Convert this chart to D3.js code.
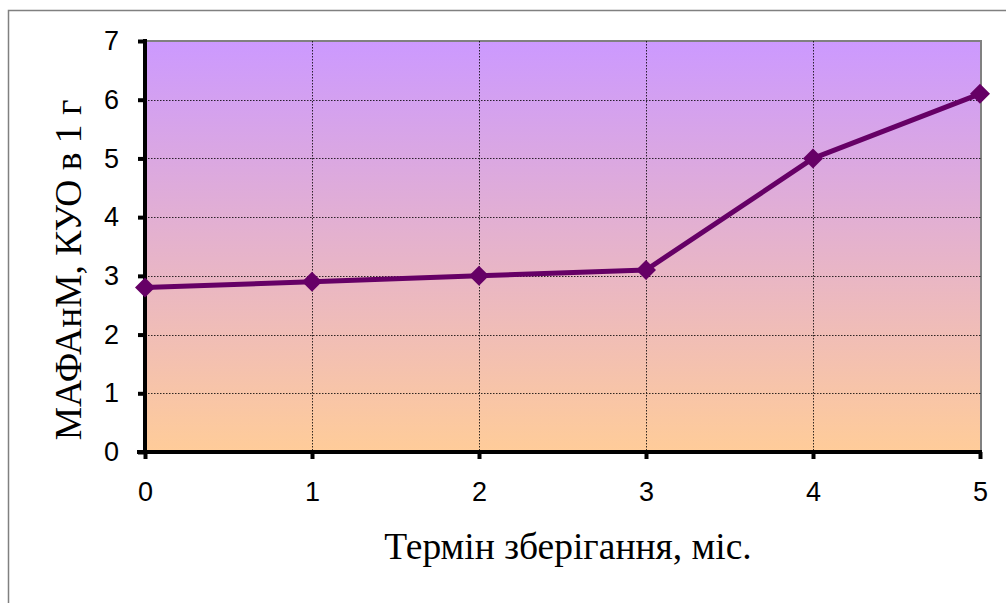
<!DOCTYPE html>
<html>
<head>
<meta charset="utf-8">
<script src="https://cdn.jsdelivr.net/npm/d3@7"></script>
<style>
  html, body { margin: 0; padding: 0; background: #fff; }
  svg { display: block; }
</style>
</head>
<body>
<svg id="chart" width="1006" height="603"></svg>
<script>
// Storage term (months) and microbial count values
const months = [0, 1, 2, 3, 4, 5];
const counts = [2.8, 2.9, 3.0, 3.1, 5.0, 6.1];
const yTicks = [0, 1, 2, 3, 4, 5, 6, 7];
const xTitle = "Термін зберігання, міс.";
const yTitle = "МАФАнМ, КУО в 1 г";

const svg = d3.select("#chart");
const W = 1006, H = 603;
const plot = { left: 145, top: 41, right: 981, bottom: 452 };

// Outer chart frame
svg.append("rect")
  .attr("x", 8.5).attr("y", 10.5)
  .attr("width", W + 10).attr("height", H + 10)
  .attr("fill", "#fff").attr("stroke", "#808080").attr("stroke-width", 1.5);

const x = d3.scaleLinear().domain([0, 5]).range([plot.left, plot.right - 1]);
const y = d3.scaleLinear().domain([0, 7]).range([plot.bottom, plot.top]);

// Plot area gradient background
const defs = svg.append("defs");
const grad = defs.append("linearGradient")
  .attr("id", "bg").attr("x1", 0).attr("y1", 0).attr("x2", 0).attr("y2", 1);
grad.append("stop").attr("offset", "0%").attr("stop-color", "#CC99FF");
grad.append("stop").attr("offset", "100%").attr("stop-color", "#FFCC99");

svg.append("rect")
  .attr("x", plot.left).attr("y", plot.top)
  .attr("width", plot.right - plot.left).attr("height", plot.bottom - plot.top)
  .attr("fill", "url(#bg)");

// Top and right border of the plot area
svg.append("path")
  .attr("d", `M${plot.left},${plot.top}H${plot.right}V${plot.bottom}`)
  .attr("fill", "none").attr("stroke", "#808080").attr("stroke-width", 2);

// Dotted gridlines
const grid = svg.append("g").attr("stroke", "#000").attr("stroke-width", 1)
  .attr("stroke-dasharray", "1.5,1.5").attr("opacity", 0.8);
yTicks.filter(t => t > 0 && t < 7).forEach(t => {
  grid.append("line")
    .attr("x1", plot.left).attr("x2", plot.right)
    .attr("y1", Math.round(y(t)) + 0.5).attr("y2", Math.round(y(t)) + 0.5);
});
months.filter(m => m > 0 && m < 5).forEach(m => {
  grid.append("line")
    .attr("y1", plot.top).attr("y2", plot.bottom)
    .attr("x1", Math.round(x(m)) + 0.5).attr("x2", Math.round(x(m)) + 0.5);
});

// Axes
const yAxis = d3.axisLeft(y).tickValues(yTicks).tickSize(7).tickPadding(19)
  .tickFormat(d3.format("d"));
const yg = svg.append("g").attr("transform", `translate(${plot.left},0)`).call(yAxis);
yg.select(".domain").attr("stroke", "#000").attr("stroke-width", 4)
  .attr("d", `M0,${plot.top - 2}V${plot.bottom + 2}`);
yg.selectAll(".tick line").attr("stroke", "#000").attr("stroke-width", 4);
yg.selectAll(".tick text")
  .style("font-family", "'Liberation Sans', Arial, sans-serif")
  .style("font-size", "27px").attr("fill", "#000");

const xAxis = d3.axisBottom(x).tickValues(months).tickSize(7).tickPadding(23)
  .tickFormat(d3.format("d"));
const xg = svg.append("g").attr("transform", `translate(0,${plot.bottom})`).call(xAxis);
xg.select(".domain").attr("stroke", "#000").attr("stroke-width", 4)
  .attr("d", `M${plot.left - 8},0H${plot.right + 1}`);
xg.selectAll(".tick line").attr("stroke", "#000").attr("stroke-width", 4);
xg.selectAll(".tick text")
  .style("font-family", "'Liberation Sans', Arial, sans-serif")
  .style("font-size", "27px").attr("fill", "#000");

// Data line
const data = months.map((m, i) => ({ m, v: counts[i] }));
svg.append("path")
  .datum(data)
  .attr("fill", "none").attr("stroke", "#660066").attr("stroke-width", 5)
  .attr("stroke-linejoin", "round")
  .attr("d", d3.line().x(d => x(d.m)).y(d => y(d.v)));

// Diamond markers
svg.append("g").selectAll("path")
  .data(data).join("path")
  .attr("transform", d => `translate(${x(d.m)},${y(d.v)})`)
  .attr("d", "M0,-10L10,0L0,10L-10,0Z")
  .attr("fill", "#660066");

// Axis titles
svg.append("text")
  .attr("x", 568).attr("y", 559)
  .attr("text-anchor", "middle")
  .style("font-family", "'Liberation Serif', 'Times New Roman', serif")
  .style("font-size", "37.5px").attr("fill", "#000")
  .text(xTitle);

svg.append("text")
  .attr("transform", `translate(81,270) rotate(-90)`)
  .attr("text-anchor", "middle")
  .style("font-family", "'Liberation Serif', 'Times New Roman', serif")
  .style("font-size", "37.5px").attr("fill", "#000")
  .text(yTitle);
</script>
</body>
</html>
